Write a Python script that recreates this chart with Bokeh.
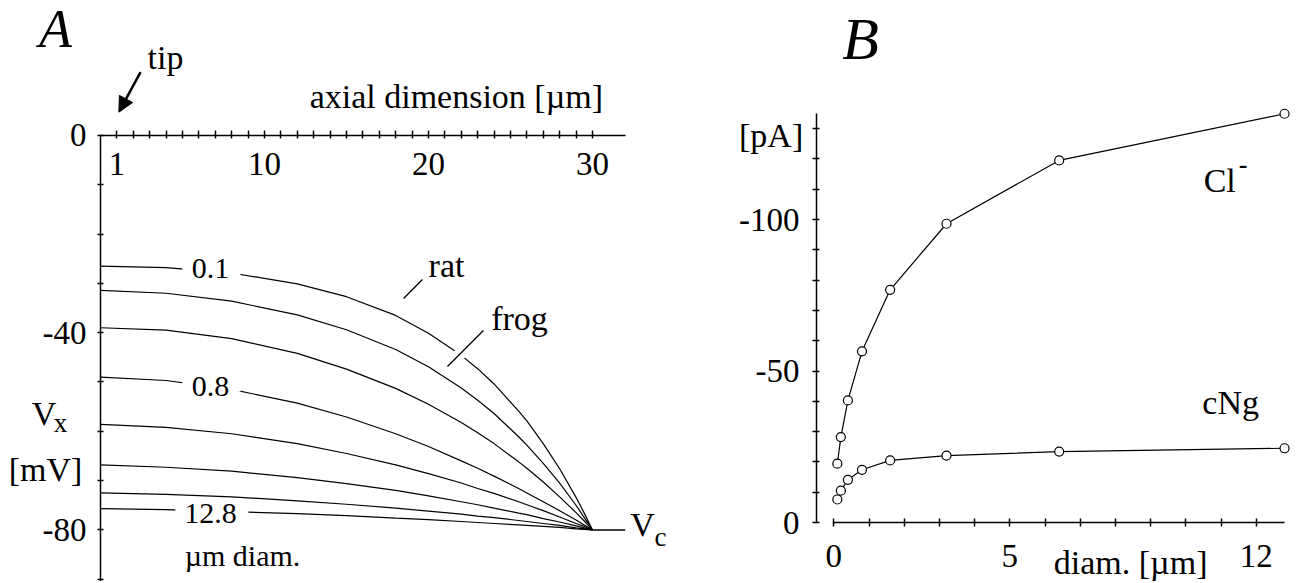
from bokeh.plotting import figure
from bokeh.layouts import row
from bokeh.models import Range1d, LinearAxis, FixedTicker, Arrow, NormalHead
from bokeh.core.properties import value
from bokeh.embed import file_html
from bokeh.resources import INLINE

FONT = "Liberation Serif"

# ---------------- Panel A data: membrane potential along the axial dimension ----------------
axial_um = [0, 4, 8, 12, 15, 18, 20, 22, 23, 24, 25.5, 26, 27, 28, 29, 29.5, 30]
diam_labels = ["0.1", "0.2", "0.4", "0.8", "1.6", "3.2", "6.4", "12.8"]
vx_d0_1 = [-26.5, -26.8, -27.9, -30.1, -32.7, -36.5, -40.1, -44.6, -47.3, -50.4, -55.9, -57.9, -62.5, -67.6, -73.4, -76.6, -80.0]
vx_d0_2 = [-31.4, -32.0, -33.6, -36.4, -39.4, -43.4, -46.9, -51.2, -53.7, -56.4, -61.1, -62.8, -66.5, -70.5, -75.0, -77.5, -80.0]
vx_d0_4 = [-39.0, -39.5, -41.2, -44.2, -47.4, -51.3, -54.5, -58.2, -60.3, -62.5, -66.2, -67.5, -70.3, -73.3, -76.5, -78.2, -80.0]
vx_d0_8 = [-49.0, -49.7, -51.5, -54.3, -57.1, -60.5, -63.1, -66.0, -67.5, -69.1, -71.6, -72.5, -74.3, -76.1, -78.0, -79.0, -80.0]
vx_d1_6 = [-58.6, -59.2, -60.5, -62.5, -64.5, -66.8, -68.6, -70.5, -71.6, -72.6, -74.3, -74.9, -76.1, -77.4, -78.7, -79.3, -80.0]
vx_d3_2 = [-66.8, -67.3, -68.1, -69.4, -70.6, -72.0, -73.1, -74.3, -74.9, -75.6, -76.6, -76.9, -77.7, -78.4, -79.2, -79.6, -80.0]
vx_d6_4 = [-72.5, -72.8, -73.3, -74.1, -74.8, -75.6, -76.2, -76.8, -77.2, -77.5, -78.1, -78.3, -78.7, -79.1, -79.6, -79.8, -80.0]
vx_d12_8 = [-75.7, -75.9, -76.3, -76.7, -77.1, -77.6, -77.9, -78.3, -78.5, -78.7, -79.0, -79.1, -79.3, -79.5, -79.8, -79.9, -80.0]
vc_line_x = [30, 32]
vc_line_y = [-80, -80]

a_xticks = [1, 10, 20, 30]
a_xminor = [v for v in range(2, 30) if v not in (10, 20)]
a_yticks = [0, -40, -80]
a_yminor = [-10, -20, -30, -50, -60, -70, -90]

# ---------------- Panel B data: current vs diameter ----------------
diam_um = [0.1, 0.2, 0.4, 0.8, 1.6, 3.2, 6.4, 12.8]
i_cl_pA = [-19.4, -28.2, -40.3, -56.5, -76.8, -98.6, -119.5, -134.9]
i_cng_pA = [-7.6, -10.5, -14.1, -17.4, -20.5, -22.1, -23.4, -24.5]

b_xticks = [0, 5, 12]
b_xminor = [1, 2, 3, 4, 6, 7, 8, 9, 10, 11]
b_yticks = [0, -50, -100]
b_yminor = [-10, -20, -30, -40, -60, -70, -80, -90, -110, -120, -130]


def style_axis(ax, tin, tout, standoff):
    ax.axis_line_color = "black"
    ax.axis_line_width = 1.5
    ax.major_tick_line_color = "black"
    ax.major_tick_line_width = 1.5
    ax.minor_tick_line_color = "black"
    ax.minor_tick_line_width = 1.5
    ax.major_tick_in = tin
    ax.major_tick_out = tout
    ax.minor_tick_in = tin
    ax.minor_tick_out = tout
    ax.major_label_text_font = FONT
    ax.major_label_text_font_size = "33px"
    ax.major_label_text_color = "black"
    ax.major_label_standoff = standoff


def txt(p, x, y, t, size="34px", style="normal"):
    p.text(x=[x], y=[y], text=[t], text_font=value(FONT), text_font_size=value(size),
           text_font_style=style, text_align="center", text_baseline="middle", text_color="black")


# ================= Panel A =================
pA = figure(width=690, height=581, x_range=Range1d(-6.10, 35.98), y_range=Range1d(-90.47, 27.38),
            output_backend="svg", toolbar_location=None, x_axis_location=None, y_axis_location=None,
            min_border=0, outline_line_color=None)
pA.grid.visible = False

for ys in [vx_d0_1, vx_d0_2, vx_d0_4, vx_d0_8, vx_d1_6, vx_d3_2, vx_d6_4, vx_d12_8]:
    pA.line(axial_um, ys, line_color="black", line_width=1.2)
pA.line(vc_line_x, vc_line_y, line_color="black", line_width=1.5)

# gaps in curves for the diameter labels
pA.rect(x=[6.76, 6.76, 6.79], y=[-27.6, -50.95, -76.2], width=[3.54, 3.54, 4.45], height=10,
        height_units="screen", fill_color="white", line_color=None)
# halo where the frog leader crosses the top curve
pA.segment(x0=[21.52], y0=[-45.64], x1=[22.38], y1=[-42.80], line_color="white", line_width=12)
# leader lines
pA.segment(x0=[18.48, 21.16], y0=[-33.06, -46.86], x1=[19.63, 23.35], y1=[-29.21, -39.55],
           line_color="black", line_width=1.3)

txt(pA, 6.71, -27.0, diam_labels[0], "30px")
txt(pA, 6.71, -50.9, diam_labels[3], "30px")
txt(pA, 6.71, -76.7, diam_labels[7], "30px")
txt(pA, 8.66, -85.2, "µm diam.", "30px")
txt(pA, 21.10, -26.4, "rat")
txt(pA, 25.55, -37.1, "frog")
txt(pA, -2.74, 21.7, "A", "54px", "italic")
txt(pA, 3.96, 15.8, "tip")
txt(pA, 21.7, 7.9, "axial dimension [µm]")
txt(pA, -3.45, -56.3, "V")
txt(pA, -2.44, -58.3, "x", "27px")
txt(pA, -3.35, -67.7, "[mV]")
txt(pA, 33.05, -78.9, "V")
txt(pA, 34.15, -81.5, "c", "27px")

pA.add_layout(Arrow(end=NormalHead(size=15, fill_color="black", line_color="black"),
                    x_start=2.44, y_start=12.84, x_end=1.12, y_end=4.73,
                    line_color="black", line_width=2.5))

ax_a_x = LinearAxis(fixed_location=0, bounds=(0, 32),
                    ticker=FixedTicker(ticks=a_xticks, minor_ticks=a_xminor))
style_axis(ax_a_x, 5, 3, 15)
pA.add_layout(ax_a_x, "below")
ax_a_y = LinearAxis(fixed_location=0, bounds=(-95, 0),
                    ticker=FixedTicker(ticks=a_yticks, minor_ticks=a_yminor))
style_axis(ax_a_y, 3, 3, 11)
ax_a_y.major_label_overrides = {0: "0", -40: "-40", -80: "-80"}
pA.add_layout(ax_a_y, "left")

# ================= Panel B =================
pB = figure(width=606, height=581, x_range=Range1d(-4.07, 13.14), y_range=Range1d(19.47, -172.28),
            output_backend="svg", toolbar_location=None, x_axis_location=None, y_axis_location=None,
            min_border=0, outline_line_color=None)
pB.grid.visible = False

pB.line(diam_um, i_cl_pA, line_color="black", line_width=1.2)
pB.line(diam_um, i_cng_pA, line_color="black", line_width=1.2)
pB.scatter(diam_um, i_cl_pA, marker="circle", size=9, fill_color="white", line_color="black", line_width=1.2)
pB.scatter(diam_um, i_cng_pA, marker="circle", size=9, fill_color="white", line_color="black", line_width=1.2)

txt(pB, 0.76, -159.7, "B", "60px", "italic")
txt(pB, -1.78, -127.7, "[pA]")
txt(pB, 10.96, -112.9, "Cl")
txt(pB, 11.62, -118.3, "-", "26px", "bold")
txt(pB, 11.27, -39.6, "cNg")
txt(pB, 8.43, 13.2, "diam. [µm]")

ax_b_x = LinearAxis(fixed_location=0, bounds=(0, 12.8),
                    ticker=FixedTicker(ticks=b_xticks, minor_ticks=b_xminor))
style_axis(ax_b_x, 4, 4, 18)
ax_b_x.major_label_overrides = {0: "0", 5: "5", 12: "12"}
pB.add_layout(ax_b_x, "below")
ax_b_y = LinearAxis(fixed_location=-0.49, bounds=(-135, 0),
                    ticker=FixedTicker(ticks=b_yticks, minor_ticks=b_yminor))
style_axis(ax_b_y, 3, 4, 13)
ax_b_y.major_label_overrides = {0: "0", -50: "-50", -100: "-100"}
pB.add_layout(ax_b_y, "left")

layout = row(pA, pB)
open("out.html", "w").write(file_html(layout, INLINE))
